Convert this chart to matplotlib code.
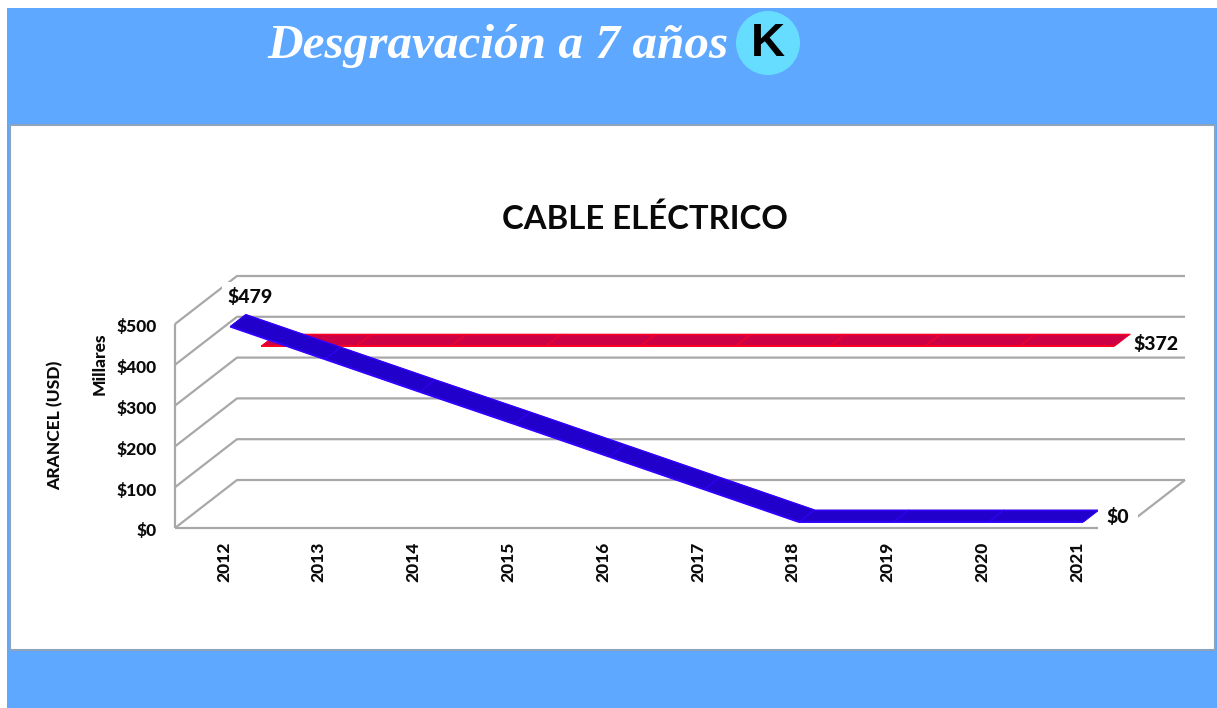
import matplotlib
matplotlib.use("Agg")
import matplotlib.pyplot as plt
from matplotlib.patches import Rectangle, Circle

years = [2012, 2013, 2014, 2015, 2016, 2017, 2018, 2019, 2020, 2021]
red_values = [372, 372, 372, 372, 372, 372, 372, 372, 372, 372]
blue_values = [479, 399, 319, 240, 160, 80, 0, 0, 0, 0]
y_ticks = [0, 100, 200, 300, 400, 500]
y_labels = ["$0", "$100", "$200", "$300", "$400", "$500"]

W, H = 1217, 708
SANS = ["Lato", "DejaVu Sans"]
INK = "#0a0a0a"
fig = plt.figure(figsize=(W / 100, H / 100), dpi=100, facecolor="white")

def fx(px): return px / W
def fy(py): return 1 - py / H

def frect(x0, y0, x1, y1, z, **kw):
    fig.add_artist(Rectangle((fx(x0), fy(y1)), (x1 - x0) / W, (y1 - y0) / H,
                             transform=fig.transFigure, zorder=z, **kw))

frect(7, 8, W, H, -10, facecolor="#5ea8ff", edgecolor="none")
frect(10, 125, 1215, 650, -9, facecolor="white", edgecolor="#8fa3bd", linewidth=1.5)

# Front plane of the pseudo-3D plot
ax = fig.add_axes([fx(175), fy(528), (1123 - 175) / W, (528 - 324) / H])
ax.set_xlim(-0.5, 9.5)
ax.set_ylim(0, 500)
ax.axis("off")

DX = 62 / 94.8          # full depth, in categories
DY = 48 * 500 / 204     # full depth, in value units
GRID = "#a8a8a8"
x0, x1 = -0.5, 9.5

def proj(x, y, t):
    return x + DX * t, y + DY * t

def line(xs, ys, z=1, color=GRID, lw=1.6):
    ax.plot(xs, ys, color=color, lw=lw, clip_on=False, zorder=z, solid_capstyle="butt")

for v, lab in zip(y_ticks, y_labels):
    bx0, by0 = proj(x0, v, 1)
    bx1, by1 = proj(x1, v, 1)
    line([x0, bx0, bx1], [v, by0, by1])
    ax.text(-0.5 - 18 / 94.8, v - 3.5 * 500 / 204, lab, ha="right", va="center",
            fontsize=12.5, fontweight=900, family=SANS, clip_on=False, color=INK)

line([x0, x0], [0, 500])
line([x0, x1], [0, 0])
bx, by = proj(x1, 0, 1)
line([x1, bx], [0, by])

def ribbon(values, t0, t1, face, edge, z):
    xs = list(range(len(values)))
    for i in range(len(xs) - 1):
        a0 = proj(xs[i], values[i], t0)
        a1 = proj(xs[i + 1], values[i + 1], t0)
        b1 = proj(xs[i + 1], values[i + 1], t1)
        b0 = proj(xs[i], values[i], t1)
        ax.fill([a0[0], a1[0], b1[0], b0[0]], [a0[1], a1[1], b1[1], b0[1]],
                facecolor=face, edgecolor=face, lw=0.5, clip_on=False, zorder=z)
        line([a0[0], a1[0]], [a0[1], a1[1]], z + 0.1, edge, 1.4)
        line([b0[0], b1[0]], [b0[1], b1[1]], z + 0.1, edge, 1.0)
    for i in range(len(xs)):
        a = proj(xs[i], values[i], t0)
        b = proj(xs[i], values[i], t1)
        line([a[0], b[0]], [a[1], b[1]], z + 0.2, edge, 0.7)

ribbon(red_values, 0.625, 0.875, "#cc0044", "#ff0022", 3)
ribbon(blue_values, 0.125, 0.375, "#2200cc", "#3300ff", 4)

for i, y in enumerate(years):
    ax.text(i + 1.5 / 94.8, -34 * 500 / 204, str(y), rotation=90, ha="center", va="center",
            fontsize=12.5, fontweight=900, family=SANS, clip_on=False, color=INK)

def label(px, py, s, pad):
    fig.text(fx(px), fy(py), s, ha="center", va="center", fontsize=14, fontweight=900,
             family=SANS, color=INK, zorder=10,
             bbox=dict(facecolor="white", edgecolor="none", pad=pad))

label(250, 297, f"${blue_values[0]}", 4)
label(1156, 344, f"${red_values[-1]}", 1)
label(1118, 517, f"${blue_values[-1]}", 6)

fig.text(fx(55), fy(425), "ARANCEL (USD)", rotation=90, ha="center", va="center",
         fontsize=12.5, fontweight=900, family=SANS, color=INK)
fig.text(fx(100), fy(364), "Millares", rotation=90, ha="center", va="center",
         fontsize=12.5, fontweight=900, family=SANS, color=INK)
fig.text(fx(645), fy(219), "CABLE ELÉCTRICO", ha="center", va="center",
         fontsize=23.7, fontweight="bold", family=SANS, color=INK)

fig.text(fx(498), fy(46), "Desgravación a 7 años", ha="center", va="center",
         fontsize=35.5, style="italic", fontweight="bold", family="Liberation Serif", color="white")
badge = fig.add_axes([fx(736), fy(75), 64 / W, 64 / H])
badge.set_xlim(-1, 1); badge.set_ylim(-1, 1); badge.axis("off")
badge.add_patch(Circle((0, 0), 1, facecolor="#66dcff", edgecolor="none"))
badge.text(0, -0.02, "K", ha="center", va="center", fontsize=34, fontweight="bold",
           family="Liberation Sans", color="black")

fig.savefig("out.png", dpi=100, facecolor="white")
